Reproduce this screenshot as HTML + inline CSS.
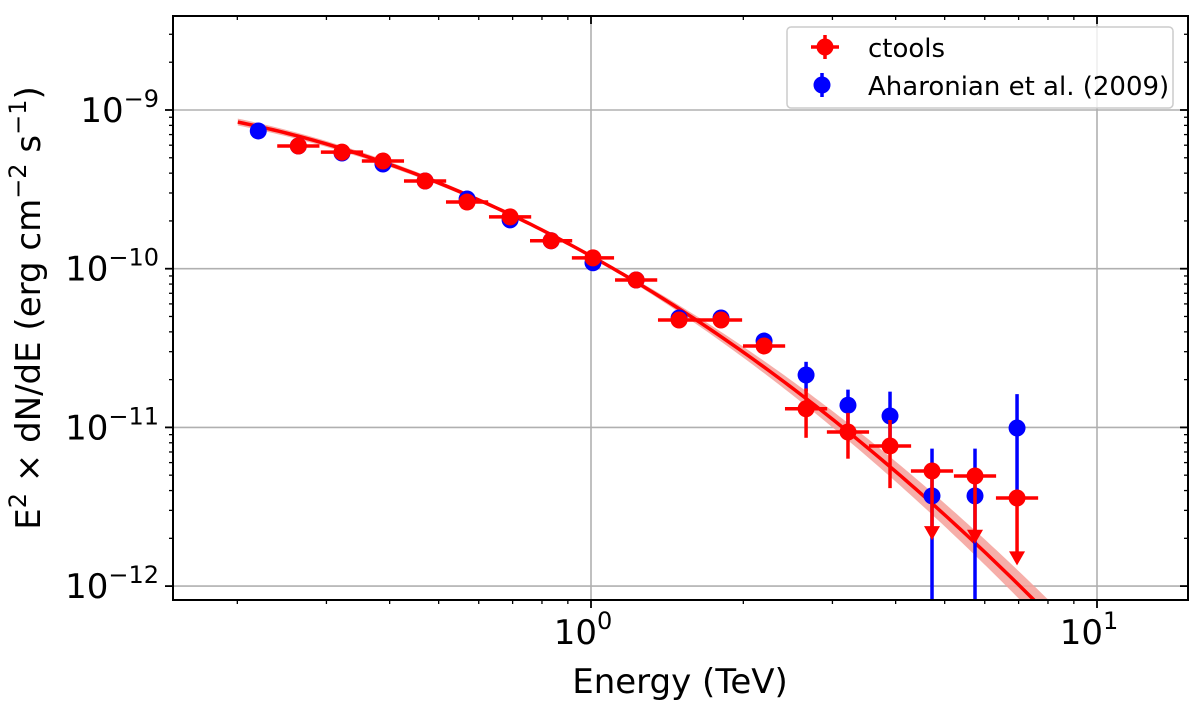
<!DOCTYPE html>
<html><head><meta charset="utf-8"><style>
html,body{margin:0;background:#fff;width:1200px;height:704px;overflow:hidden}
svg{display:block;font-family:"DejaVu Sans","Liberation Sans",sans-serif}
</style></head><body>
<svg id="chart" width="1200" height="704" viewBox="0 0 1200 704"></svg>
<script>
const ctoolsE=[0.264,0.322,0.388,0.470,0.569,0.692,0.834,1.009,1.228,1.493,1.807,2.198,2.661,3.220,3.899,4.72,5.74,6.95];
const ctoolsF=[5.93e-10,5.43e-10,4.77e-10,3.57e-10,2.63e-10,2.12e-10,1.50e-10,1.17e-10,8.49e-11,4.75e-11,4.75e-11,3.26e-11,1.31e-11,9.35e-12,7.64e-12,5.31e-12,4.94e-12,3.59e-12];
const ctoolsErr=[0.3e-10,0.3e-10,0.3e-10,0.2e-10,0.15e-10,0.12e-10,0.08e-10,0.07e-10,0.5e-11,0.3e-11,0.3e-11,0.35e-11,0.45e-11,0.3e-11,0.35e-11,0,0,0];
const ctoolsUL=[0,0,0,0,0,0,0,0,0,0,0,0,0,0,0,1,1,1];
const ctoolsULEnd=[0,0,0,0,0,0,0,0,0,0,0,0,0,0,0,1.95e-12,1.85e-12,1.35e-12];
const ahaE=[0.220,0.264,0.322,0.388,0.470,0.569,0.692,0.834,1.009,1.228,1.493,1.807,2.198,2.661,3.220,3.899,4.72,5.74,6.95];
const ahaF=[7.38e-10,5.93e-10,5.36e-10,4.57e-10,3.57e-10,2.75e-10,2.03e-10,1.50e-10,1.09e-10,8.49e-11,4.89e-11,4.89e-11,3.50e-11,2.14e-11,1.38e-11,1.18e-11,3.70e-12,3.70e-12,9.91e-12];
const ahaErr=[0.2e-10,0.2e-10,0.2e-10,0.15e-10,0.12e-10,0.1e-10,0.08e-10,0.06e-10,0.05e-10,0.3e-11,0.2e-11,0.2e-11,0.3e-11,0.45e-11,0.35e-11,0.5e-11,3.65e-12,3.65e-12,6.3e-12];
const modelParams=[-9.92,-1.771,-0.805];
const yTicks=[-9,-10,-11,-12];
const xTicks=[0,1];
const NS="http://www.w3.org/2000/svg";
const svg=document.getElementById('chart');
const L=173,R=1188,T=16,B=600;
const x=e=>591+506*Math.log10(e);
const y=f=>110-158.7*(Math.log10(f)+9);
function el(t,a,p){const e=document.createElementNS(NS,t);for(const k in a)e.setAttribute(k,a[k]);(p||svg).appendChild(e);return e;}
const clip=el('clipPath',{id:'pc'});el('rect',{x:L,y:T,width:R-L,height:B-T},clip);
yTicks.forEach(v=>{const g=el('line',{x1:L,x2:R,y1:y(Math.pow(10,v)),y2:y(Math.pow(10,v)),stroke:'#b0b0b0','stroke-width':1.6});
});
xTicks.forEach(v=>{const g=el('line',{x1:x(Math.pow(10,v)),x2:x(Math.pow(10,v)),y1:T,y2:B,stroke:'#b0b0b0','stroke-width':1.6});
});
const pg=el('g',{'clip-path':'url(#pc)'});
const model=lx=>modelParams[0]+modelParams[1]*lx+modelParams[2]*lx*lx;
let up=[],dn=[],ln=[];
for(let lx=-0.698;lx<=0.95;lx+=0.01){const m=model(lx),w=lx>0?0.006+0.095*lx:0.008+0.02*(-lx);const px=591+506*lx;
ln.push(px+','+(110-158.7*(m+9)));up.push(px+','+(110-158.7*(m+w+9)));dn.unshift(px+','+(110-158.7*(m-w+9)));}
const band=el('polygon',{points:up.concat(dn).join(' '),fill:'#f4a09a',opacity:0.85},pg);

const ml=el('polyline',{points:ln.join(' '),fill:'none',stroke:'#ff0000','stroke-width':3.5},pg);

ahaE.forEach((e,i)=>{const g=el('g',{},pg);
const lo=ahaF[i]-ahaErr[i];const ylo=lo>0?y(lo):B+5;
el('line',{x1:x(e),x2:x(e),y1:y(ahaF[i]+ahaErr[i]),y2:ylo,stroke:'#0000ff','stroke-width':3.5},g);
el('circle',{cx:x(e),cy:y(ahaF[i]),r:8.5,fill:'#0000ff'},g);});
const dlx=0.0417;
ctoolsE.forEach((e,i)=>{const g=el('g',{},pg);
const cx=x(e),cy=y(ctoolsF[i]);
el('line',{x1:x(e*Math.pow(10,-dlx)),x2:x(e*Math.pow(10,dlx)),y1:cy,y2:cy,stroke:'#ff0000','stroke-width':3.5},g);
if(ctoolsUL[i]){const ty=y(ctoolsULEnd[i]);
el('line',{x1:cx,x2:cx,y1:cy,y2:ty-12,stroke:'#ff0000','stroke-width':3.5},g);
el('polygon',{points:(cx-8)+','+(ty-14)+' '+(cx+8)+','+(ty-14)+' '+cx+','+ty,fill:'#ff0000'},g);}
else el('line',{x1:cx,x2:cx,y1:y(ctoolsF[i]+ctoolsErr[i]),y2:y(ctoolsF[i]-ctoolsErr[i]),stroke:'#ff0000','stroke-width':3.5},g);
el('circle',{cx:cx,cy:cy,r:8.5,fill:'#ff0000'},g);});
const fr=el('rect',{x:L,y:T,width:R-L,height:B-T,fill:'none',stroke:'#000','stroke-width':2});

yTicks.forEach(v=>{const py=y(Math.pow(10,v));
el('line',{x1:L-8,x2:L,y1:py,y2:py,stroke:'#000','stroke-width':1.8});
el('line',{x1:R-8,x2:R,y1:py,y2:py,stroke:'#000','stroke-width':1.8});
const t=el('text',{x:L-14,y:py+12,'text-anchor':'end','font-size':34});

t.innerHTML='10<tspan dy="-15" font-size="24">−'+(-v)+'</tspan>';});
for(let d=-12;d<=-9;d++)for(let k=2;k<=9;k++){const py=y(k*Math.pow(10,d));if(py<T||py>B)continue;
el('line',{x1:L-4,x2:L,y1:py,y2:py,stroke:'#000','stroke-width':1.3});el('line',{x1:R-4,x2:R,y1:py,y2:py,stroke:'#000','stroke-width':1.3});}
xTicks.forEach(v=>{const px=x(Math.pow(10,v));
el('line',{x1:px,x2:px,y1:B,y2:B+8,stroke:'#000','stroke-width':1.8});
el('line',{x1:px,x2:px,y1:T,y2:T+8,stroke:'#000','stroke-width':1.8});
const t=el('text',{x:px-8,y:B+44,'text-anchor':'middle','font-size':34});

t.innerHTML='10<tspan dy="-15" font-size="24">'+v+'</tspan>';});
for(let d=-1;d<=1;d++)for(let k=2;k<=9;k++){const px=x(k*Math.pow(10,d));if(px<L||px>R)continue;
el('line',{x1:px,x2:px,y1:B,y2:B+4,stroke:'#000','stroke-width':1.3});el('line',{x1:px,x2:px,y1:T,y2:T+4,stroke:'#000','stroke-width':1.3});}
const xt=el('text',{x:680,y:693,'text-anchor':'middle','font-size':34});xt.textContent='Energy (TeV)';

const yt=el('text',{x:0,y:0,'text-anchor':'middle','font-size':34,transform:'translate(40,308) rotate(-90)'});
yt.innerHTML='E<tspan dy="-14" font-size="24">2</tspan><tspan dy="14"> × dN/dE (erg cm</tspan><tspan dy="-14" font-size="24">−2</tspan><tspan dy="14"> s</tspan><tspan dy="-14" font-size="24">−1</tspan><tspan dy="14">)</tspan>';

const lg=el('g',{});
el('rect',{x:787,y:27,width:386,height:81,rx:4,fill:'#fff','fill-opacity':0.8,stroke:'#ccc','stroke-width':1.5},lg);
const e1=el('g',{},lg);
el('line',{x1:811,x2:839,y1:47,y2:47,stroke:'#f00','stroke-width':3.5},e1);el('line',{x1:825,x2:825,y1:35,y2:59,stroke:'#f00','stroke-width':3.5},e1);
el('circle',{cx:825,cy:47,r:8.5,fill:'#f00'},e1);
const t1=el('text',{x:868,y:57,'font-size':26},e1);t1.textContent='ctools';
const e2=el('g',{},lg);
el('line',{x1:822,x2:822,y1:73,y2:97,stroke:'#00f','stroke-width':3.5},e2);el('circle',{cx:822,cy:85,r:8.5,fill:'#00f'},e2);
const t2=el('text',{x:868,y:95,'font-size':26},e2);t2.textContent='Aharonian et al. (2009)';
</script>
</body></html>
